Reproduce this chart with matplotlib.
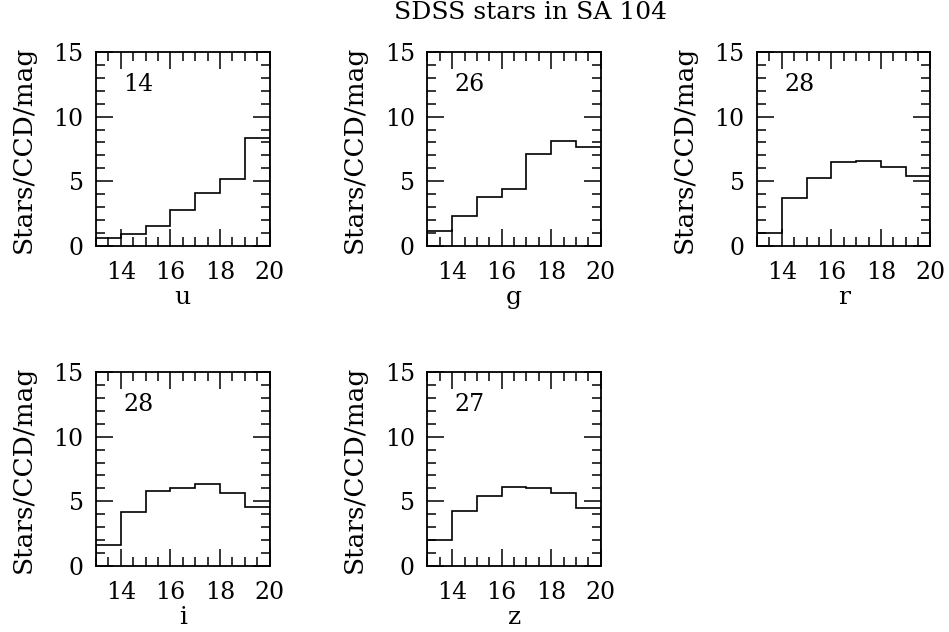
import numpy as np
import matplotlib
matplotlib.use('Agg')
import matplotlib.pyplot as plt
from matplotlib.ticker import MultipleLocator

# Histogram data (stars per CCD per mag, 1-mag bins)
mag_edges = [13, 14, 15, 16, 17, 18, 19, 20]
bands = ['u', 'g', 'r', 'i', 'z']
totals = [14, 26, 28, 28, 27]
u_counts = [0.62, 0.93, 1.57, 2.78, 4.12, 5.17, 8.34]
g_counts = [1.13, 2.32, 3.81, 4.43, 7.13, 8.08, 7.62]
r_counts = [0.98, 3.73, 5.27, 6.46, 6.56, 6.12, 5.43]
i_counts = [1.62, 4.14, 5.81, 6.05, 6.35, 5.63, 4.53]
z_counts = [2.00, 4.22, 5.43, 6.12, 6.05, 5.66, 4.50]
all_counts = [u_counts, g_counts, r_counts, i_counts, z_counts]

plt.rcParams['font.family'] = ['DejaVu Serif']

fig = plt.figure(figsize=(9.49, 6.32), dpi=100)

# axes positions in figure fractions
lefts = [0.1012, 0.4503, 0.7977]
bottoms = [0.6108, 0.1044]
w, h = 0.1828, 0.307

for k, band in enumerate(bands):
    row, col = divmod(k, 3)
    ax = fig.add_axes([lefts[col], bottoms[row], w, h])
    ax.stairs(all_counts[k], mag_edges, color='black', linewidth=1.2)
    ax.set_xlim(13, 20)
    ax.set_ylim(0, 15)
    ax.xaxis.set_major_locator(MultipleLocator(2))
    ax.xaxis.set_minor_locator(MultipleLocator(0.5))
    ax.yaxis.set_major_locator(MultipleLocator(5))
    ax.yaxis.set_minor_locator(MultipleLocator(1))
    ax.tick_params(which='both', direction='in', top=True, right=True,
                   width=1.1, labelsize=17)
    ax.tick_params(which='major', length=12, pad=9)
    ax.tick_params(axis='x', which='major', pad=11)
    ax.tick_params(which='minor', length=6.5)
    for s in ax.spines.values():
        s.set_linewidth(1.3)
    ax.set_xlabel(band, fontsize=18, labelpad=1)
    ax.set_ylabel('Stars/CCD/mag', fontsize=19, labelpad=13)
    ax.text(14.1, 12.5, str(totals[k]), fontsize=17, ha='left', va='center')

fig.text(0.5595, 0.981, 'SDSS stars in SA 104', fontsize=18, ha='center', va='center')

fig.savefig('out.png', dpi=100)
